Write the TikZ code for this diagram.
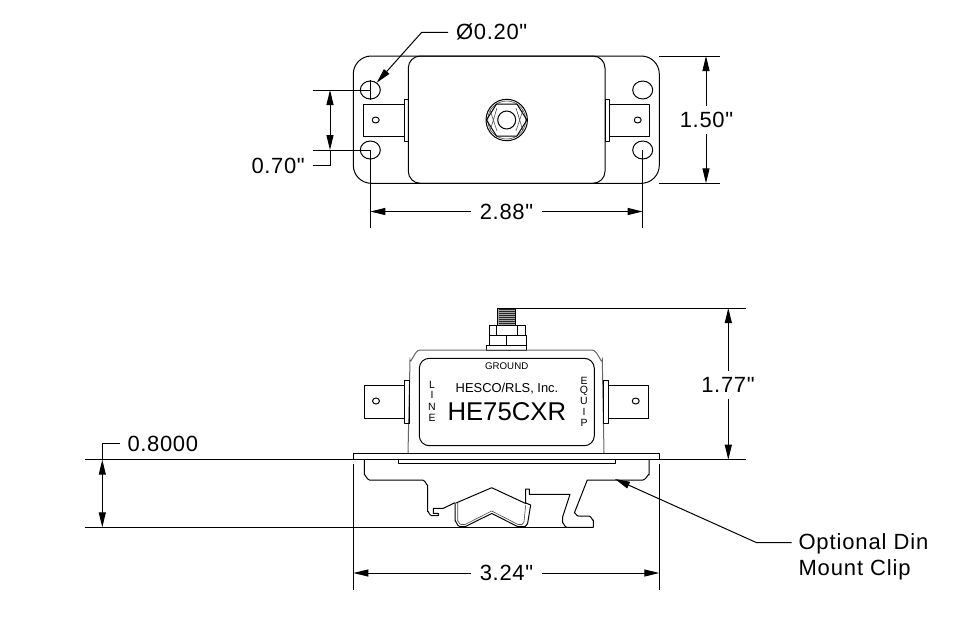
\documentclass[tikz,border=0pt]{standalone}
\usepackage{fontspec}
\setmainfont{Liberation Sans}
\usetikzlibrary{arrows.meta}
\newfontfamily\dimfont[LetterSpace=3]{Liberation Sans}
\newfontfamily\notefont[LetterSpace=4]{Liberation Sans}
\tikzset{
  part/.style={draw=black,line width=1pt,line join=round},
  thinpart/.style={draw=black!70,line width=0.6pt},
  greypart/.style={draw=black!60,line width=1pt},
  dimline/.style={draw=black,line width=1pt},
  dimarrow/.style={dimline,{Stealth[length=15pt,width=7pt,inset=0pt]}-{Stealth[length=15pt,width=7pt,inset=0pt]}},
  onearrow/.style={dimline,-{Stealth[length=15pt,width=7pt,inset=0pt]}},
  dimtext/.style={inner sep=0pt,text height=15.7pt,text depth=0pt,font=\dimfont\fontsize{22}{22}\selectfont},
  notetext/.style={inner sep=0pt,text height=15.7pt,text depth=0pt,font=\notefont\fontsize{22}{22}\selectfont},
  small/.style={inner sep=0pt,font=\fontsize{10.5}{10.5}\selectfont}
}
\begin{document}
\begin{tikzpicture}[x=1pt,y=-1pt]
\useasboundingbox[fill=white] (0,0) rectangle (980,622);
% ---------- top view ----------
\draw[part,rounded corners=18pt] (353.3,56) rectangle (659.3,183.3);
\draw[part,rounded corners=12pt] (408.3,56) rectangle (605,183.3);
\foreach \x/\y in {370.3/90,370.3/150,642.7/90,642.7/150}
  \draw[part] (\x,\y) ellipse (10 and 9);
\draw[part] (363.3,104.3) rectangle (404.3,136.7);
\draw[part] (404.3,99.3) rectangle (408.3,141.3);
\draw[part] (609.7,104.3) rectangle (649.7,136.7);
\draw[part] (605,99.3) rectangle (609.7,141.3);
\draw[part] (375.7,120) ellipse (3.5 and 3);
\draw[part] (637.7,120) ellipse (3.5 and 3);
\coordinate (nut) at (506.7,120);
\draw[part] (nut) circle (20.7);
\draw[thinpart] (nut) circle (19);
\draw[part] (nut) circle (9);
\draw[part] (486.5,120) -- (496.5,104) -- (516.9,104) -- (526.9,120) -- (516.9,136) -- (496.5,136) -- cycle;
\draw[thinpart] (490,110) -- (497,131) (523,110) -- (516,131) (497,108) -- (490,131) (516,108) -- (523,131);
% top dimensions
\coordinate (holeA) at (370.3,90);
\coordinate (holeB) at (370.3,150);
\coordinate (holeD) at (642.7,150);
\coordinate (tipa) at (376.7,82.7);
\coordinate (kneea) at (421.7,32.3);
\coordinate (enda) at (448,32.3);
\node[dimtext,anchor=west] (phi) at (456,32) {Ø0.20"};
\draw[onearrow] (enda) -- (kneea) -- (tipa);
\draw[dimline] (312.7,90) -- (holeA);
\draw[dimline] (312.7,150) -- (holeB);
\draw[dimline] (370.3,80) -- (370.3,100);
\draw[dimarrow] (330,90) -- (330,150);
\node[dimtext,anchor=east] (t070) at (305,165.5) {0.70"};
\coordinate (k070) at (330,165.5);
\draw[dimline] (312.7,165.5) -- (k070) -- (330,150);
\draw[dimline] (659.3,56) -- (720,56);
\draw[dimline] (659.3,183.3) -- (720,183.3);
\node[dimtext] (t150) at (706.5,120) {1.50"};
\draw[onearrow] (t150.north -| 706,0) ++(0,-6) -- (706,56);
\draw[onearrow] (t150.south -| 706,0) ++(0,6) -- (706,183.3);
\draw[dimline] (holeB) -- (370.3,228);
\draw[dimline] (holeD) -- (642.7,228);
\node[dimtext] (t288) at (506.5,211.5) {2.88"};
\draw[onearrow] (t288.west) ++(-9,0) -- (370.3,211.5);
\draw[onearrow] (t288.east) ++(9,0) -- (642.7,211.5);
% ---------- side view ----------
\fill[black!35] (497.7,308) rectangle (515.7,325);
\foreach \y in {309.5,311.5,...,324} \draw[black!85,line width=0.6pt] (499,\y) -- (514.5,\y);
\draw[part] (497.7,308) rectangle (515.7,325);
\draw[part] (489.3,325) rectangle (525,335);
\draw[part] (496.7,325) -- (496.7,335) (517.7,325) -- (517.7,335);
\draw[part] (489.3,335) rectangle (526,345);
\draw[part] (506.7,335) -- (506.7,345);
\draw[part] (486.7,345) rectangle (526.7,350);
\draw[dimline] (515.7,308) -- (746,308);
\draw[greypart] (408,453.3) -- (410,360) to[out=-85,in=180] (420,350) -- (592,350) to[out=0,in=-95] (602.3,360) -- (604,453.3);
\draw[part,rounded corners=10pt] (419.3,358.3) rectangle (594.3,445.7);
\draw[part] (364.3,385) rectangle (404.3,418.3);
\draw[part] (404.3,380) rectangle (409.3,423.3);
\draw[part] (608.7,385) rectangle (648.7,418.3);
\draw[part] (603.3,380) rectangle (608.7,423.3);
\draw[part] (376,401) ellipse (3.5 and 3);
\draw[part] (635.7,401) ellipse (3.5 and 3);
\node[inner sep=0pt,font=\fontsize{9.7}{9.7}\selectfont] (ground) at (506.7,366) {GROUND};
\node[inner sep=0pt,font=\fontsize{12.9}{12.9}\selectfont] (hesco) at (507,388.5) {HESCO/RLS, Inc.};
\node[inner sep=0pt,font=\fontsize{25.7}{25.7}\selectfont] (model) at (506.8,412) {HE75CXR};
\node[small] (l1) at (432,385) {L};
\node[small] (l2) at (432,395) {I};
\node[small] (l3) at (432,406.7) {N};
\node[small] (l4) at (432,418) {E};
\node[small] (e1) at (584,380.7) {E};
\node[small] (e2) at (584,390.7) {Q};
\node[small] (e3) at (584,400.7) {U};
\node[small] (e4) at (584,411.7) {I};
\node[small] (e5) at (584,423) {P};
% base plate
\draw[part] (353.3,459.7) -- (353.3,453.3) -- (659.3,453.3) -- (659.3,459.7);
\draw[part] (398.3,459.7) rectangle (615,463.3);
% clip
\draw[part] (364.3,460) -- (364.3,475) to[out=90,in=180] (369.5,480) -- (422.7,480) to[out=0,in=-90] (427.7,485)
  -- (427.7,511.7) to[out=90,in=180] (431.7,515.7) -- (438.3,515.7) -- (438.3,513.3) -- (433.3,513.3) -- (433.3,508.3) -- (443.3,508.3) -- (455,502.7);
\draw[part] (455,502.7) -- (455,521) to[out=90,in=180] (460,526.7) -- (465,526.7) -- (491.7,513.5) -- (518,526.7) -- (525,526.7) to[out=0,in=100] (527.5,524) -- (530.7,505) -- (525.7,503) -- (525.7,489) -- (529.3,489) -- (529.3,494.3) -- (570,494.3) -- (562.7,516.7) -- (562.7,523) to[out=90,in=180] (566.7,527.3) -- (593.3,527.3) -- (593.3,520) to[out=-90,in=0] (589,516) -- (578.3,516) to[out=180,in=90] (574.3,513) -- (587.3,480) -- (643,480) to[out=0,in=90] (649,475) -- (649,460);
\draw[part] (456,503) -- (491.7,487.7) -- (525.7,503.5);
\draw[thinpart] (457.7,503) -- (457.7,521) to[out=90,in=180] (461,524.5) -- (465,524.5) -- (491.7,511) -- (518,524.5) -- (522,524.5) to[out=0,in=100] (524,522) -- (525.7,505);
% side dimensions
\coordinate (lefta) at (85,459.7);
\coordinate (righta) at (746,459.7);
\draw[dimline] (lefta) -- (righta);
\draw[dimline] (85,527.3) -- (593.3,527.3);
\draw[dimline] (353.3,464) -- (353.3,590);
\draw[dimline] (659.3,464) -- (659.3,590);
\draw[dimarrow] (102.3,459.7) -- (102.3,527.3);
\node[dimtext,anchor=west] (t08) at (127.3,443.3) {0.8000};
\draw[dimline] (120,443.3) -- (102.3,443.3) -- (102.3,459.7);
\node[dimtext] (t177) at (728,385) {1.77"};
\draw[onearrow] (t177.north -| 728.3,0) ++(0,-6) -- (728.3,308);
\draw[onearrow] (t177.south -| 728.3,0) ++(0,6) -- (728.3,459.7);
\node[dimtext] (t324) at (506.5,573) {3.24"};
\draw[onearrow] (t324.west) ++(-9,0) -- (353.3,573);
\draw[onearrow] (t324.east) ++(9,0) -- (659.3,573);
\node[notetext,anchor=west] (opt) at (798.3,541.7) {Optional Din};
\node[notetext,anchor=west] (mnt) at (798.3,568) {Mount Clip};
\coordinate (tipb) at (615,479);
\coordinate (kneeb) at (756.7,542.7);
\draw[onearrow] (791.7,542.7) -- (kneeb) -- (tipb);
\end{tikzpicture}
\end{document}
